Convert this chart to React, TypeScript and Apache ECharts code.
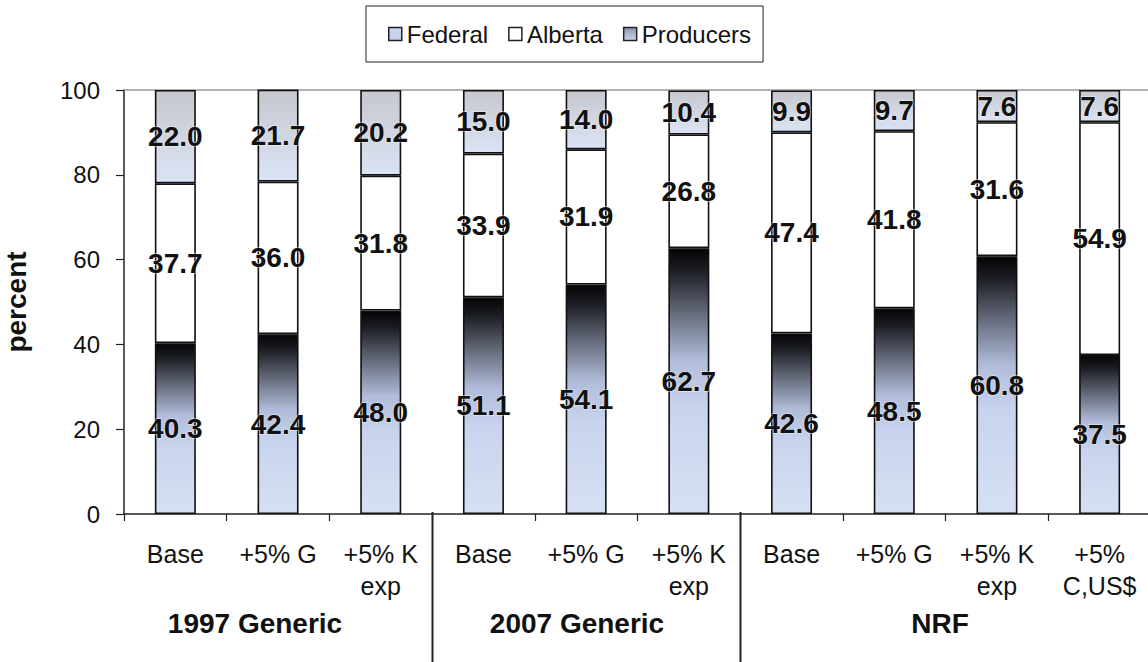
import React, { useEffect, useRef } from "react";
import * as echarts from "echarts";

// Scenario categories along the x axis
const categories = [
  "Base", "+5% G", "+5% K\nexp",
  "Base", "+5% G", "+5% K\nexp",
  "Base", "+5% G", "+5% K\nexp", "+5%\nC,US$",
];

// Shares of rent (percent)
const producers = [40.3, 42.4, 48.0, 51.1, 54.1, 62.7, 42.6, 48.5, 60.8, 37.5];
const alberta = [37.7, 36.0, 31.8, 33.9, 31.9, 26.8, 47.4, 41.8, 31.6, 54.9];
const federal = [22.0, 21.7, 20.2, 15.0, 14.0, 10.4, 9.9, 9.7, 7.6, 7.6];

// Scenario groups: label and label position
const groupNames = ["1997 Generic", "2007 Generic", "NRF"];
const groupLabelX = [255, 577, 940];
// Category indices after which a group separator is drawn
const groupBreaks = [2, 5];

const yTicks = [0, 20, 40, 60, 80, 100];

const FONT = "Arial, 'Liberation Sans', sans-serif";

const producerFill = new echarts.graphic.LinearGradient(0, 0, 0, 1, [
  { offset: 0, color: "#050507" },
  { offset: 0.08, color: "#1b1d23" },
  { offset: 0.22, color: "#5b606e" },
  { offset: 0.42, color: "#b0bcd9" },
  { offset: 0.6, color: "#c8d4ee" },
  { offset: 1, color: "#d6e0f4" },
]);

const federalFill = new echarts.graphic.LinearGradient(0, 0, 0, 1, [
  { offset: 0, color: "#c6c8ce" },
  { offset: 1, color: "#dbe3f4" },
]);

const labelStyle = {
  show: true,
  position: "inside" as const,
  formatter: (p: any) => Number(p.value).toFixed(1),
  color: "#111",
  fontFamily: FONT,
  fontWeight: "bold" as const,
  fontSize: 28,
  textBorderColor: "rgba(255,255,255,0.5)",
  textBorderWidth: 1.5,
};

const barBorder = { borderColor: "#111", borderWidth: 1.6 };

export default function App() {
  const ref = useRef<HTMLDivElement>(null);

  useEffect(() => {
    if (!ref.current) return;
    const chart = echarts.init(ref.current, undefined, { renderer: "svg" });

    chart.setOption({
      animation: false,
      backgroundColor: "#ffffff",
      legend: {
        left: 366,
        top: 6,
        orient: "horizontal",
        padding: [16, 12, 16, 22],
        itemGap: 20,
        itemWidth: 13,
        itemHeight: 13,
        borderColor: "#222",
        borderWidth: 1,
        textStyle: { fontFamily: FONT, fontSize: 24, color: "#111" },
        data: [
          { name: "Federal", icon: "rect", itemStyle: { color: "#c6d3ec", borderColor: "#222", borderWidth: 1.5 } },
          { name: "Alberta", icon: "rect", itemStyle: { color: "#ffffff", borderColor: "#222", borderWidth: 1.5 } },
          {
            name: "Producers",
            icon: "rect",
            itemStyle: {
              color: new echarts.graphic.LinearGradient(0, 0, 0, 1, [
                { offset: 0, color: "#8d95aa" },
                { offset: 1, color: "#c9d4ec" },
              ]),
              borderColor: "#222",
              borderWidth: 1.5,
            },
          },
        ],
      },
      grid: { left: 124, top: 90, width: 1027, bottom: 148, outerBoundsMode: "none" },
      xAxis: [
        {
          type: "category",
          data: categories,
          axisLine: { lineStyle: { color: "#222", width: 1.5 } },
          axisTick: { show: true, length: 7, lineStyle: { color: "#222", width: 1.2 } },
          axisLabel: {
            interval: 0,
            margin: 24,
            fontFamily: FONT,
            fontSize: 25,
            lineHeight: 32,
            color: "#111",
          },
        },
        {
          type: "category",
          position: "top",
          data: categories,
          axisLine: { lineStyle: { color: "#9a9a9a", width: 1.5 } },
          axisTick: { show: false },
          axisLabel: { show: false },
        },
      ],
      yAxis: {
        type: "value",
        min: 0,
        max: 100,
        interval: 20,
        name: "percent",
        nameLocation: "middle",
        nameRotate: 90,
        nameGap: 94,
        nameTextStyle: { fontFamily: FONT, fontWeight: "bold", fontSize: 28, lineHeight: 28, color: "#111" },
        axisLine: { show: true, lineStyle: { color: "#222", width: 1.5 } },
        axisTick: { show: true, length: 8, lineStyle: { color: "#222", width: 1.2 } },
        splitLine: { show: false },
        axisLabel: {
          margin: 24,
          fontFamily: FONT,
          fontSize: 24,
          color: "#111",
          formatter: (v: number) => (yTicks.includes(v) ? String(v) : ""),
        },
      },
      series: [
        {
          name: "Producers",
          type: "bar",
          stack: "share",
          barWidth: 41,
          data: producers,
          itemStyle: { color: producerFill, ...barBorder },
          label: labelStyle,
        },
        {
          name: "Alberta",
          type: "bar",
          stack: "share",
          barWidth: 41,
          data: alberta,
          itemStyle: { color: "#ffffff", ...barBorder },
          label: labelStyle,
        },
        {
          name: "Federal",
          type: "bar",
          stack: "share",
          barWidth: 41,
          data: federal,
          itemStyle: { color: federalFill, ...barBorder },
          label: labelStyle,
        },
      ],
    });

    // Group separators below the axis and group titles
    const y0 = chart.convertToPixel({ yAxisIndex: 0 }, 0) as number;
    const separators = groupBreaks.map((i) => {
      const a = chart.convertToPixel({ xAxisIndex: 0 }, i) as number;
      const b = chart.convertToPixel({ xAxisIndex: 0 }, i + 1) as number;
      const x = Math.round((a + b) / 2) + 0.5;
      return {
        type: "line",
        shape: { x1: x, y1: y0 - 2, x2: x, y2: 662 },
        style: { stroke: "#222", lineWidth: 2 },
        silent: true,
      };
    });
    const titles = groupNames.map((name, i) => ({
      type: "text",
      x: groupLabelX[i],
      y: 623,
      style: {
        text: name,
        fill: "#111",
        font: `bold 28px ${FONT}`,
        align: "center",
        verticalAlign: "middle",
      },
      silent: true,
    }));
    chart.setOption({ graphic: [...separators, ...titles] });

    return () => chart.dispose();
  }, []);

  return (
    <div
      ref={ref}
      style={{ position: "absolute", left: 0, top: 0, width: 1148, height: 662 }}
    />
  );
}
